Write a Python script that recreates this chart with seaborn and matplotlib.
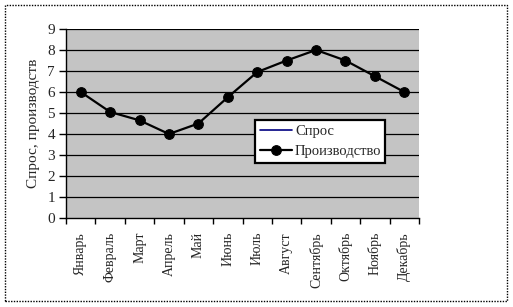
import matplotlib
matplotlib.use("Agg")
import matplotlib.pyplot as plt
import seaborn as sns
import pandas as pd
from matplotlib.patches import Rectangle

months = ["Январь", "Февраль", "Март", "Апрель", "Май", "Июнь", "Июль",
          "Август", "Сентябрь", "Октябрь", "Ноябрь", "Декабрь"]
production = [6.0, 5.05, 4.65, 4.0, 4.5, 5.75, 6.95, 7.5, 8.0, 7.5, 6.75, 6.0]
y_ticks = [0, 1, 2, 3, 4, 5, 6, 7, 8, 9]

sns.set_theme(style="white")
plt.rcParams['font.family'] = ['Liberation Serif', 'DejaVu Serif']

fig = plt.figure(figsize=(5.13, 3.07), dpi=100)
ax = fig.add_axes([66/513, 1 - 218/307, (419-66)/513, (218-29)/307])
ax.set_facecolor('#c4c4c4')

df = pd.DataFrame({"x": range(len(months)), "y": production})
ax.plot([], [], color='#000080', lw=1.2, label='Спрос')
sns.lineplot(data=df, x="x", y="y", ax=ax, color='black', lw=1.6,
             marker='o', markersize=7, markeredgecolor='black',
             label='Производство', zorder=5)

ax.set_xlim(-0.5, len(months) - 0.5)
ax.set_ylim(0, 9)
ax.set_yticks(y_ticks)
ax.set_yticklabels([str(v) for v in y_ticks], fontsize=11)
ax.set_xticks([i for i in range(len(months))])
ax.set_xticklabels(months, rotation=90, fontsize=10)
ax.set_xticks([i - 0.5 for i in range(len(months) + 1)], minor=True)
ax.tick_params(axis='x', which='major', length=0, pad=10)
ax.tick_params(axis='x', which='minor', length=4.5, width=1, color='black', direction='out', bottom=True)
ax.tick_params(axis='y', length=5, width=1, color='black', direction='out', left=True, pad=3)
for y in y_ticks[1:]:
    ax.axhline(y, color='black', lw=0.9, zorder=1)
for s in ['top', 'right']:
    ax.spines[s].set_visible(False)
for s in ['left', 'bottom']:
    ax.spines[s].set_color('black')
    ax.spines[s].set_linewidth(1)
ax.set_xlabel('')
ax.set_ylabel('Спрос, производств', fontsize=11, labelpad=5)

leg = ax.legend(loc='lower left', bbox_to_anchor=(0.535, 0.29, 0.37, 0.245),
                mode='expand', frameon=True, fancybox=False, fontsize=10.5,
                handlelength=2.2, handletextpad=0.2, borderpad=0.35,
                labelspacing=0.45, borderaxespad=0)
leg.get_frame().set_edgecolor('black')
leg.get_frame().set_linewidth(1.6)
leg.get_frame().set_facecolor('white')
leg.get_frame().set_alpha(1)

fig.patches.append(Rectangle((5/513, 1 - 301/307), 502/513, 296/307,
                             transform=fig.transFigure, fill=False,
                             edgecolor='black', lw=1, linestyle=(0, (1, 1))))

fig.savefig('out.png', dpi=100)
